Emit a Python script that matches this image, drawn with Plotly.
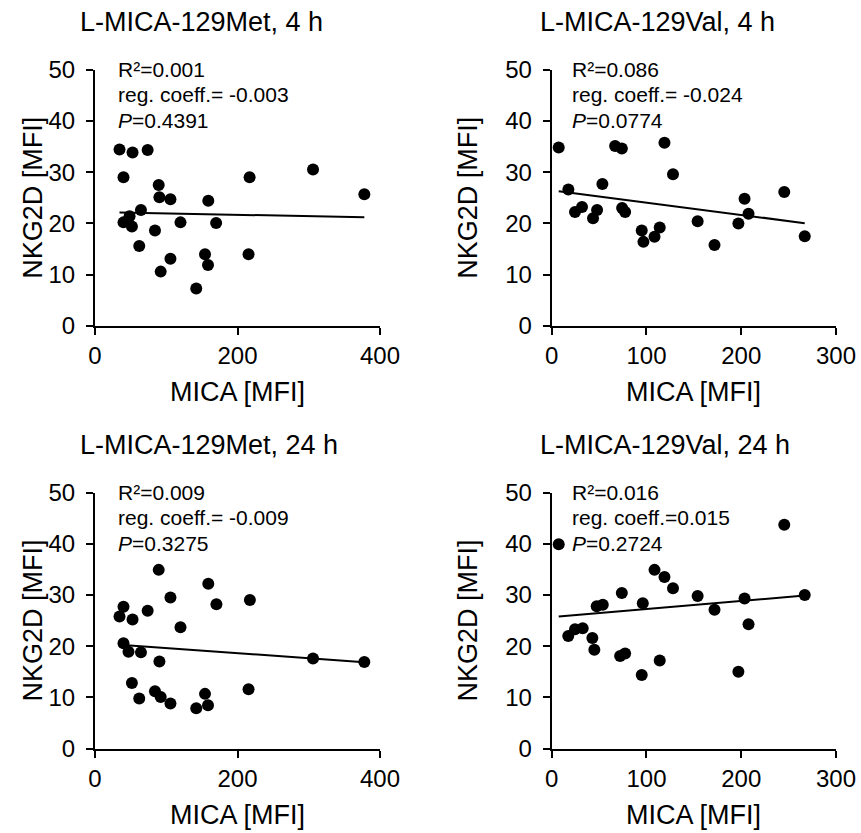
import plotly.graph_objects as go

# ---------------- data ----------------
PANEL_TITLES = ["L-MICA-129Met, 4 h", "L-MICA-129Val, 4 h",
                "L-MICA-129Met, 24 h", "L-MICA-129Val, 24 h"]

MET_4H_X = [34.4, 40.0, 40.0, 48.5, 51.8, 52.7, 62.1, 64.5, 73.9, 84.2, 89.4, 90.4, 92.2,
            105.9, 105.9, 120.0, 142.1, 154.4, 158.6, 159.0, 170.0, 215.5, 217.0, 306.0, 378.0]
MET_4H_Y = [34.4, 29.0, 20.2, 21.4, 19.4, 33.8, 15.6, 22.6, 34.3, 18.6, 27.5, 25.1, 10.6,
            24.7, 13.1, 20.2, 7.3, 14.0, 11.9, 24.4, 20.1, 14.0, 29.0, 30.5, 25.7]

VAL_4H_X = [7.4, 17.6, 24.6, 32.0, 43.6, 47.9, 53.5, 66.9, 74.0, 74.3, 77.5, 95.0, 96.8,
            108.5, 114.0, 119.0, 128.0, 154.0, 171.8, 197.0, 203.5, 207.7, 245.4, 267.0]
VAL_4H_Y = [34.8, 26.6, 22.2, 23.2, 21.0, 22.6, 27.7, 35.1, 34.6, 23.0, 22.2, 18.6, 16.4,
            17.4, 19.2, 35.7, 29.6, 20.4, 15.8, 20.0, 24.8, 21.9, 26.1, 17.5]

MET_24H_X = [34.4, 40.0, 40.0, 47.0, 51.8, 52.7, 62.1, 64.5, 73.9, 84.2, 89.4, 90.4, 92.2,
             105.9, 105.9, 120.0, 142.1, 154.4, 158.6, 159.0, 170.4, 215.5, 217.4, 306.0, 378.0]
MET_24H_Y = [25.8, 27.7, 20.6, 18.9, 12.8, 25.2, 9.8, 18.8, 26.9, 11.2, 34.9, 17.0, 10.1,
             29.5, 8.8, 23.7, 7.9, 10.7, 8.5, 32.2, 28.2, 11.6, 29.0, 17.6, 16.9]

VAL_24H_X = [7.4, 17.5, 24.6, 32.7, 42.9, 45.0, 47.5, 53.9, 74.0, 72.2, 77.5, 95.0, 96.1,
             108.5, 114.0, 119.0, 128.0, 154.0, 171.8, 197.0, 203.5, 207.7, 245.4, 267.0]
VAL_24H_Y = [39.9, 22.0, 23.3, 23.5, 21.6, 19.3, 27.8, 28.1, 30.4, 18.1, 18.6, 14.4, 28.4,
             34.9, 17.2, 33.5, 31.3, 29.8, 27.1, 15.0, 29.3, 24.3, 43.7, 30.0]

# regression lines (intercept, slope)
REG_INTERCEPT = [22.2, 26.45, 20.6, 25.7]
REG_SLOPE = [-0.0026, -0.024, -0.0098, 0.0157]

STATS_R2 = ["0.001", "0.086", "0.009", "0.016"]
STATS_COEFF = [" -0.003", " -0.024", " -0.009", "0.015"]
STATS_P = ["0.4391", "0.0774", "0.3275", "0.2724"]

X_RANGES = [[0, 400], [0, 300], [0, 400], [0, 300]]
X_DTICK = [200, 100, 200, 100]
Y_RANGE = [0, 50]
Y_DTICK = 10

X_TITLE = "MICA [MFI]"
Y_TITLE = "NKG2D [MFI]"

# ---------------- layout geometry (pixels) ----------------
W, H = 861, 833
FONT = "Liberation Sans, Arial, sans-serif"
col_px = [(95, 380), (551.7, 836)]
row_px = [(69.5, 326), (492.5, 748.7)]
ROW_SHIFT = 422.7
YTITLE_PX = [33, 468]

def fx(px):
    return px / W

def fy(py):
    return 1 - py / H

XS = [MET_4H_X, VAL_4H_X, MET_24H_X, VAL_24H_X]
YS = [MET_4H_Y, VAL_4H_Y, MET_24H_Y, VAL_24H_Y]

fig = go.Figure()
annotations = []
layout = {}

for i in range(4):
    r, c = divmod(i, 2)
    xa = "x" if i == 0 else f"x{i+1}"
    ya = "y" if i == 0 else f"y{i+1}"
    xs, ys = XS[i], YS[i]

    fig.add_trace(go.Scatter(x=xs, y=ys, mode="markers", xaxis=xa, yaxis=ya,
                             marker=dict(color="black", size=12),
                             cliponaxis=False, showlegend=False, hoverinfo="x+y"))
    x0, x1 = min(xs), max(xs)
    fig.add_trace(go.Scatter(x=[x0, x1],
                             y=[REG_INTERCEPT[i] + REG_SLOPE[i] * x0,
                                REG_INTERCEPT[i] + REG_SLOPE[i] * x1],
                             mode="lines", xaxis=xa, yaxis=ya,
                             line=dict(color="black", width=2),
                             cliponaxis=False, showlegend=False, hoverinfo="skip"))

    xkey = "xaxis" if i == 0 else f"xaxis{i+1}"
    ykey = "yaxis" if i == 0 else f"yaxis{i+1}"
    common = dict(showline=True, linecolor="black", linewidth=2, ticks="outside",
                  ticklen=7, tickwidth=2, tickcolor="black", showgrid=False,
                  zeroline=False, tickfont=dict(family=FONT, size=24, color="black"),
                  automargin=False, fixedrange=True)
    layout[xkey] = dict(domain=[fx(col_px[c][0]), fx(col_px[c][1])], anchor=ya,
                        range=X_RANGES[i], dtick=X_DTICK[i], tick0=0, **common)
    layout[ykey] = dict(domain=[fy(row_px[r][1]), fy(row_px[r][0])], anchor=xa,
                        range=Y_RANGE, dtick=Y_DTICK, tick0=0, ticklabelstandoff=6,
                        **common)

    xcen = (col_px[c][0] + col_px[c][1]) / 2
    # panel title
    annotations.append(dict(text=PANEL_TITLES[i], xref="paper", yref="paper",
                            x=fx([78, 538][c]), y=fy(22.5 + r * ROW_SHIFT),
                            xanchor="left", yanchor="middle", showarrow=False,
                            font=dict(family=FONT, size=27, color="black")))
    # x axis title
    annotations.append(dict(text=X_TITLE, xref="paper", yref="paper",
                            x=fx(xcen), y=fy(392 + r * ROW_SHIFT),
                            xanchor="center", yanchor="middle", showarrow=False,
                            font=dict(family=FONT, size=27, color="black")))
    # y axis title
    annotations.append(dict(text=Y_TITLE, xref="paper", yref="paper",
                            x=fx(YTITLE_PX[c]), y=fy((row_px[r][0] + row_px[r][1]) / 2),
                            xanchor="center", yanchor="middle", textangle=-90,
                            showarrow=False,
                            font=dict(family=FONT, size=27, color="black")))
    # stats text
    lines = [f"R²={STATS_R2[i]}", f"reg. coeff.={STATS_COEFF[i]}", f"<i>P</i>={STATS_P[i]}"]
    for k, txt in enumerate(lines):
        annotations.append(dict(text=txt, xref=f"{xa} domain", yref=f"{ya} domain",
                                x=[0.0737, 0.064][c], y=1.0 - 0.099 * k,
                                xanchor="left", yanchor="middle", showarrow=False,
                                font=dict(family=FONT, size=21, color="black")))

fig.update_layout(width=W, height=H, margin=dict(l=0, r=0, t=0, b=0),
                  paper_bgcolor="white", plot_bgcolor="white",
                  annotations=annotations, **layout)

fig.write_html("out.html", config={"displayModeBar": False},
               post_script="document.body.style.margin='0px';document.body.style.overflow='hidden';")
